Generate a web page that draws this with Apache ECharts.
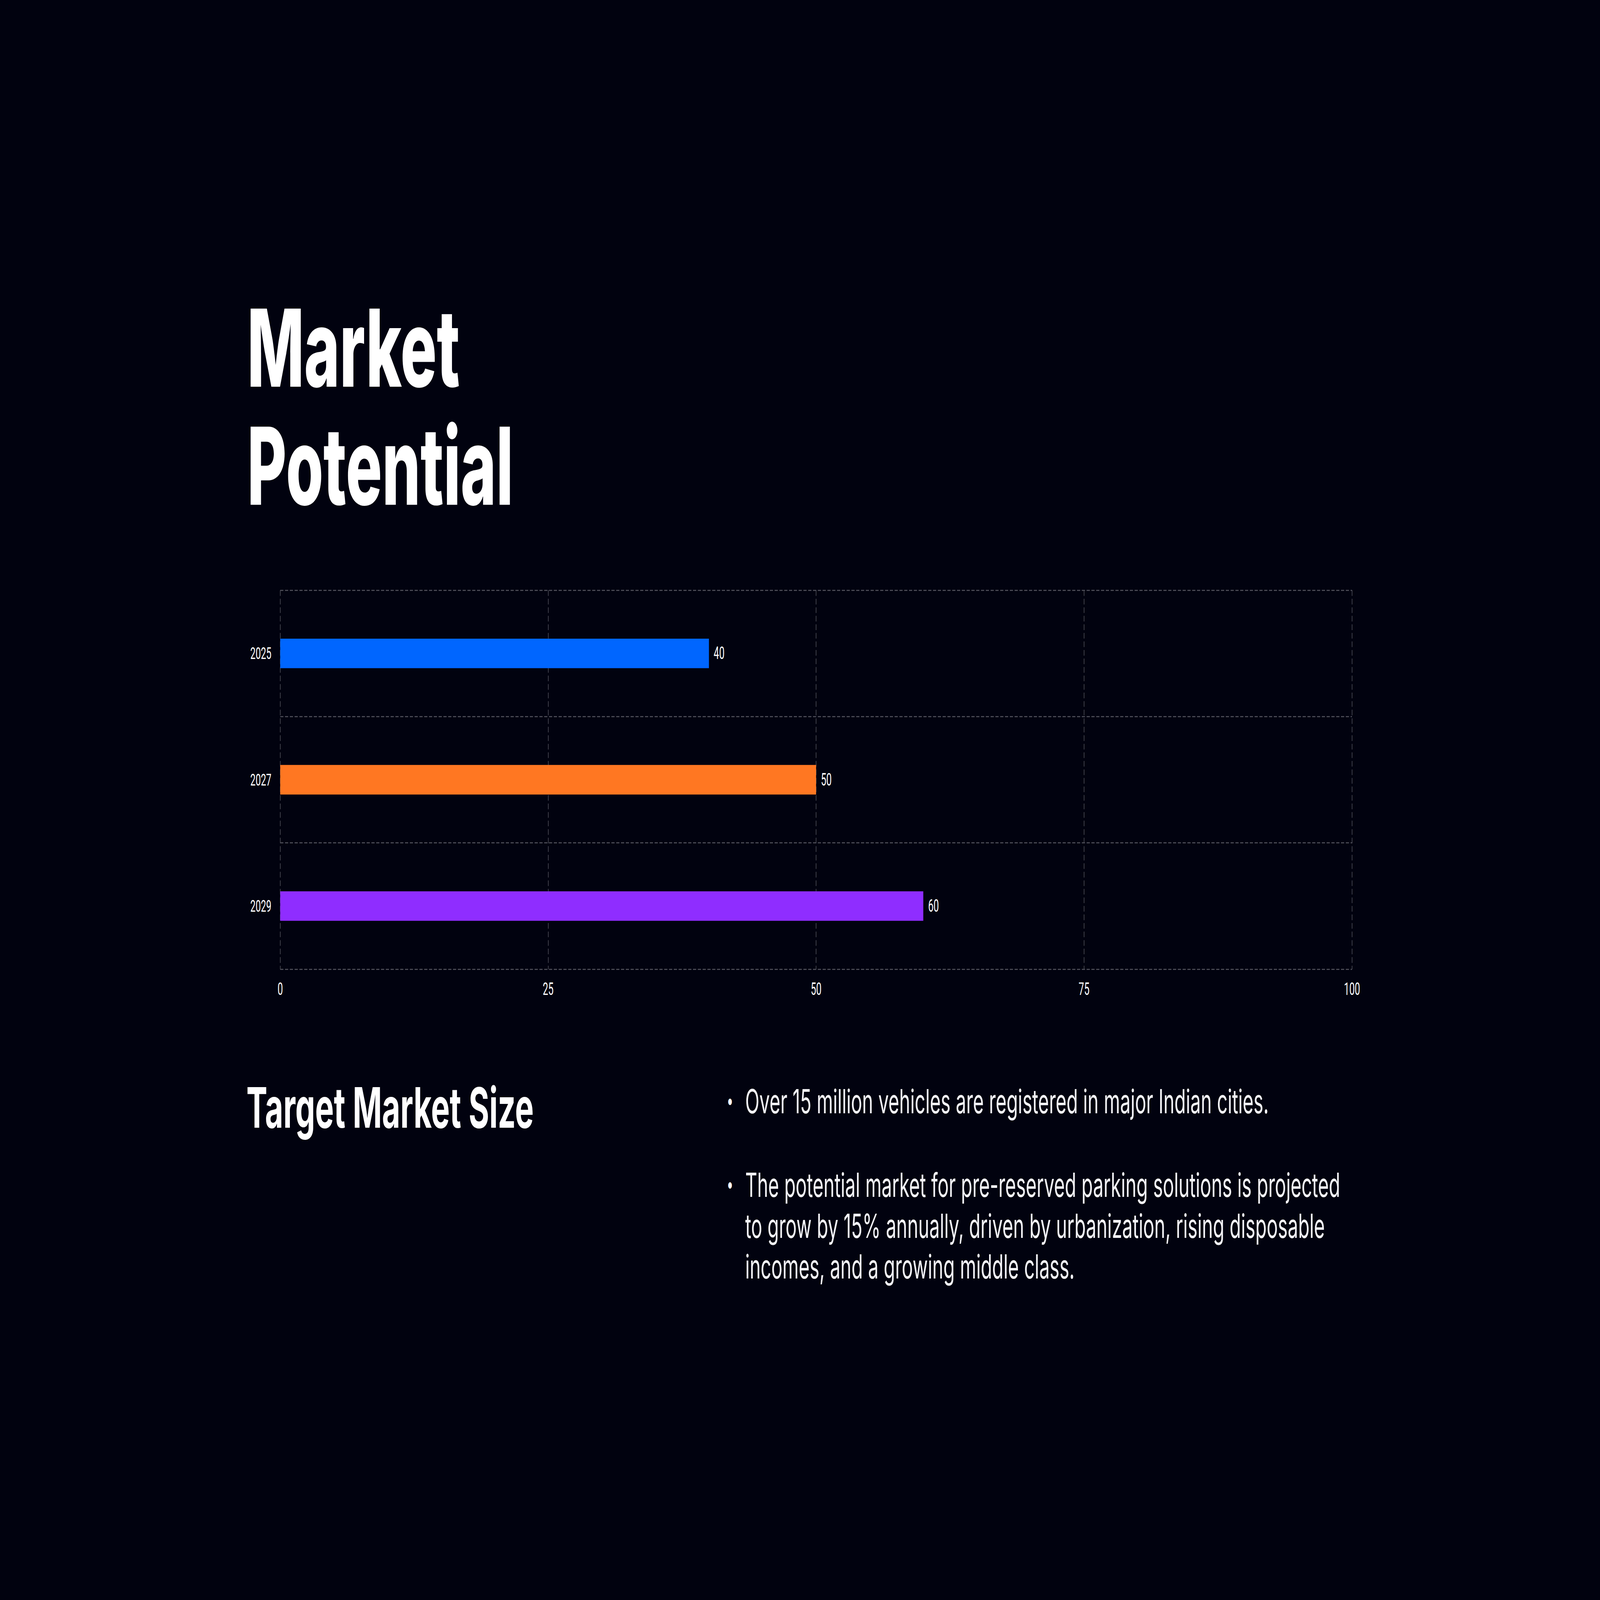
<!DOCTYPE html>
<html>
<head>
<meta charset="utf-8">
<title>Market Potential</title>
<script src="https://cdn.jsdelivr.net/npm/echarts@6.0.0/dist/echarts.min.js"></script>
<style>
    html, body { margin: 0; padding: 0; background: #01020f; overflow: hidden; }
    #chart { width: 8000px; height: 4500px; transform-origin: 0 0; }
</style>
</head>
<body>
<div id="chart"></div>
<script>
// 数据
var years = ['2025', '2027', '2029'];
var marketValues = [40, 50, 60];
var barColors = ['#0066ff', '#ff7722', '#8f2dff'];
var xTicks = [0, 25, 50, 75, 100];

// 文案
var titleLines = ['Market', 'Potential'];
var subTitle = 'Target Market Size';
var bullets = [
    ['Over 15 million vehicles are registered in major Indian cities.'],
    [
        'The potential market for pre-reserved parking solutions is projected',
        'to grow by 15% annually, driven by urbanization, rising disposable',
        'incomes, and a growing middle class.'
    ]
];

var BG = '#01020f';
var GRID_LINE = '#4e4e58';
var FONT = 'Inter, "Noto Sans", sans-serif';

// 设计稿是 8000x4500，窗口不一样大时整体缩放铺满
function fitToWindow() {
    var el = document.getElementById('chart');
    var sx = window.innerWidth / 8000;
    var sy = window.innerHeight / 4500;
    el.style.transform = 'scale(' + sx + ',' + sy + ')';
}

function makeBarData() {
    var arr = [];
    for (var i = 0; i < marketValues.length; i++) {
        arr.push({
            value: marketValues[i],
            itemStyle: { color: barColors[i] }
        });
    }
    return arr;
}

function makeTextGraphics() {
    var g = [];

    g.push({
        type: 'text',
        left: 1236,
        top: 812,
        style: {
            text: titleLines.join('\n'),
            fill: '#ffffff',
            font: '800 302px ' + FONT,
            lineHeight: 332
        }
    });

    g.push({
        type: 'text',
        left: 1232,
        top: 3036,
        style: {
            text: subTitle,
            fill: '#ffffff',
            font: '700 157px ' + FONT
        }
    });

    // 每条要点：圆点 + 文字
    var tops = [3040, 3275];
    for (var i = 0; i < bullets.length; i++) {
        g.push({
            type: 'text',
            left: 3634,
            top: tops[i] + 26,
            style: {
                text: '•',
                fill: '#ffffff',
                font: '400 58px ' + FONT
            }
        });
        g.push({
            type: 'text',
            left: 3726,
            top: tops[i],
            style: {
                text: bullets[i].join('\n'),
                fill: '#f4f4f7',
                font: '400 93px ' + FONT,
                lineHeight: 115
            }
        });
    }

    return g;
}

fitToWindow();
var myChart = echarts.init(document.getElementById('chart'), null, { renderer: 'svg' });

var option = {
    backgroundColor: BG,
    animation: false,
    grid: {
        left: 1401,
        top: 1660,
        width: 5359,
        height: 1066,
        containLabel: false
    },
    xAxis: {
        type: 'value',
        min: xTicks[0],
        max: xTicks[xTicks.length - 1],
        interval: xTicks[1] - xTicks[0],
        axisLine: { show: false },
        axisTick: { show: false },
        axisLabel: {
            color: '#ffffff',
            fontSize: 48,
            fontFamily: 'Roboto',
            margin: 32
        },
        splitLine: {
            show: true,
            lineStyle: { color: GRID_LINE, width: 3, type: [16, 8] }
        }
    },
    yAxis: {
        type: 'category',
        data: years,
        inverse: true,
        axisLine: { show: false },
        axisTick: { show: false },
        axisLabel: {
            color: '#ffffff',
            fontSize: 47,
            fontFamily: 'Roboto',
            margin: 44
        },
        splitLine: {
            show: true,
            lineStyle: { color: GRID_LINE, width: 3, type: [16, 8] }
        }
    },
    series: [{
        type: 'bar',
        data: makeBarData(),
        barWidth: 83,
        label: {
            show: true,
            position: 'right',
            distance: 24,
            color: '#ffffff',
            fontSize: 48,
            fontFamily: 'Roboto'
        }
    }],
    graphic: makeTextGraphics()
};

myChart.setOption(option);
</script>
</body>
</html>
